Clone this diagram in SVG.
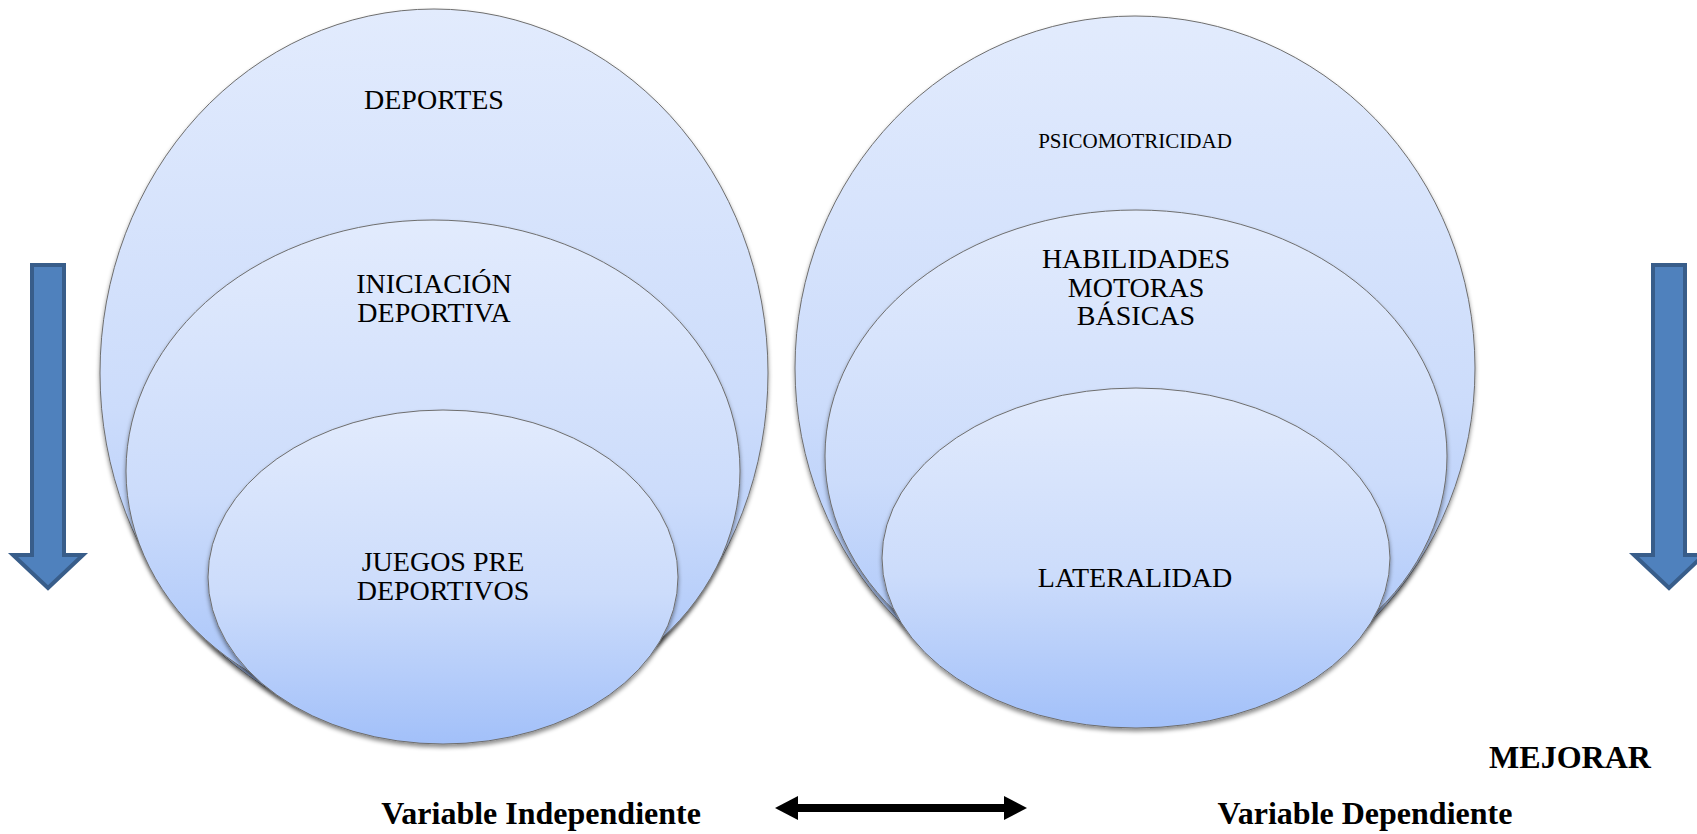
<svg xmlns="http://www.w3.org/2000/svg" width="1697" height="834" viewBox="0 0 1697 834">
<defs>
<linearGradient id="g" x1="0" y1="0" x2="0" y2="1">
<stop offset="0" stop-color="#E2EBFD"/>
<stop offset="0.55" stop-color="#CCDCFB"/>
<stop offset="1" stop-color="#A2C0F9"/>
</linearGradient>
<filter id="sh" x="-10%" y="-10%" width="120%" height="125%">
<feDropShadow dx="0" dy="3" stdDeviation="2" flood-color="#000" flood-opacity="0.45"/>
</filter>
</defs>
<style>
.e{fill:url(#g);stroke:#6E6E6E;stroke-width:1;filter:url(#sh)}
.t{font-family:"Liberation Serif","Times New Roman",serif;font-size:28px;fill:#000;text-anchor:middle}
.s{font-size:21px}
.b{font-family:"Liberation Serif","Times New Roman",serif;font-size:32px;font-weight:bold;fill:#000;text-anchor:middle}
.ba{fill:#4F81BD;stroke:#385D8A;stroke-width:4;stroke-linejoin:miter}
</style>
<rect width="1697" height="834" fill="#fff"/>
<g id="deportes">
<ellipse class="e" cx="434" cy="373" rx="334" ry="364"/>
<text class="t" x="434" y="109">DEPORTES</text>
</g>
<g id="iniciacion">
<ellipse class="e" cx="433" cy="471" rx="307" ry="251"/>
<text class="t" x="434" y="293">INICIACIÓN</text>
<text class="t" x="434" y="322">DEPORTIVA</text>
</g>
<g id="juegos">
<ellipse class="e" cx="443" cy="577" rx="235" ry="167"/>
<text class="t" x="443" y="571">JUEGOS PRE</text>
<text class="t" x="443" y="600">DEPORTIVOS</text>
</g>
<g id="psicomotricidad">
<ellipse class="e" cx="1135" cy="368" rx="340" ry="352"/>
<text class="t s" x="1135" y="148">PSICOMOTRICIDAD</text>
</g>
<g id="habilidades">
<ellipse class="e" cx="1136" cy="456" rx="311" ry="246"/>
<text class="t" x="1136" y="268">HABILIDADES</text>
<text class="t" x="1136" y="297">MOTORAS</text>
<text class="t" x="1136" y="325">BÁSICAS</text>
</g>
<g id="lateralidad">
<ellipse class="e" cx="1136" cy="558" rx="254" ry="170"/>
<text class="t" x="1135" y="587">LATERALIDAD</text>
</g>
<g id="flecha-izq">
<path class="ba" d="M32,265 H64 V555 H83 L48,588 L13,555 H32 Z"/>
</g>
<g id="flecha-der">
<path class="ba" d="M1653,265 H1685 V555 H1704 L1669,588 L1634,555 H1653 Z"/>
</g>
<g id="connectors">
<line x1="795" y1="808" x2="1007" y2="808" stroke="#000" stroke-width="8"/>
<polygon points="775,808 798,796 798,820" fill="#000"/>
<polygon points="1027,808 1004,796 1004,820" fill="#000"/>
</g>
<g id="labels">
<text class="b" x="541" y="824">Variable Independiente</text>
<text class="b" x="1365" y="824">Variable Dependiente</text>
<text class="b" x="1570" y="768">MEJORAR</text>
</g>
</svg>
